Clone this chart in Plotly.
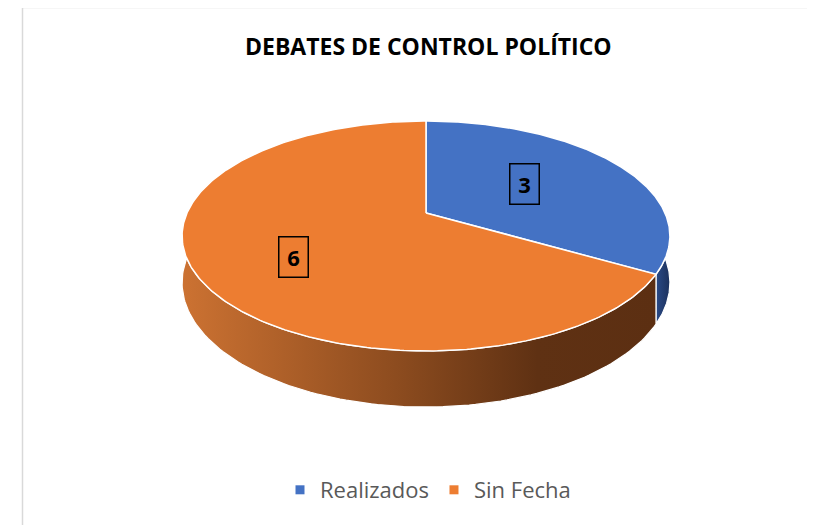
import numpy as np
import plotly.graph_objects as go

# ---- data ----
categories = ["Realizados", "Sin Fecha"]
values = [3, 6]
title_text = "DEBATES DE CONTROL POLÍTICO"

# ---- style / geometry (not data) ----
top_colors = ["#4472C4", "#ED7D31"]
wall_scales = [
    [[0, "#2a4a86"], [1, "#1c315c"]],
    [[0, "#cc7232"], [0.45, "#8d4c1f"], [0.75, "#5f3113"], [1, "#5c2f12"]],
]
CX, CY = 426.0, 213.0      # projected pie centre (px)
SX, SY = 239.0, 110.4      # horizontal / depth scale (px)
B = 0.2                    # perspective factor
H = 44.8                   # thickness (px, world)
START = 90.0               # first slice starts at 12 o'clock, clockwise
OFF = 8                    # page body margin compensation


def proj(t_deg, r=1.0, drop=0.0):
    t = np.radians(np.asarray(t_deg, dtype=float))
    X = r * np.cos(t)
    Z = r * np.sin(t)
    w = 1 + B * Z
    return CX + SX * X / w, CY - SY * Z / w + drop / w


total = float(sum(values))
bounds = [START]
for v in values:
    bounds.append(bounds[-1] - 360.0 * v / total)

fig = go.Figure()

# side walls (visible front part: angles between -180 and 0)
for i in range(len(values)):
    a1, a2 = bounds[i], bounds[i + 1]
    for shift in (0, 360, -360):
        lo = max(a2 + shift, -180.0)
        hi = min(a1 + shift, 0.0)
        if hi - lo > 0.01:
            ts = np.linspace(hi, lo, 120)
            xt, yt = proj(ts)
            xb, yb = proj(ts[::-1], drop=H)
            fig.add_trace(go.Scatter(
                x=np.concatenate([xt, xb, xt[:1]]),
                y=np.concatenate([yt, yb, yt[:1]]),
                mode="lines", fill="toself",
                line=dict(color="white", width=1.2),
                fillgradient=dict(type="horizontal", colorscale=wall_scales[i]),
                hoverinfo="skip", showlegend=False))

# top surface slices
for i in range(len(values)):
    a1, a2 = bounds[i], bounds[i + 1]
    ts = np.linspace(a1, a2, 300)
    xa, ya = proj(ts)
    cx0, cy0 = proj(0.0, r=0.0)
    fig.add_trace(go.Scatter(
        x=np.concatenate([[cx0], xa, [cx0]]),
        y=np.concatenate([[cy0], ya, [cy0]]),
        mode="lines", fill="toself", fillcolor=top_colors[i],
        line=dict(color="white", width=1.5),
        hoverinfo="skip", showlegend=False))

# data labels
label_r = [0.5, 0.6]
label_drop = [-3.0, 8.0]
for i, v in enumerate(values):
    mid = (bounds[i] + bounds[i + 1]) / 2
    lx, ly = proj(mid, r=label_r[i], drop=label_drop[i])
    fig.add_annotation(x=float(lx), y=float(ly), text=f"<b>{v}</b>", showarrow=False,
                       font=dict(family="Open Sans", size=22, color="black"),
                       bordercolor="black", borderwidth=1.5, borderpad=3,
                       width=22, height=33, xanchor="center", yanchor="middle")

# legend entries
for i, c in enumerate(categories):
    fig.add_trace(go.Scatter(x=[None], y=[None], mode="markers", name=c,
                             marker=dict(symbol="square", size=9, color=top_colors[i])))

# title
fig.add_annotation(x=428, y=46, text=f"<b>{title_text}</b>", showarrow=False,
                   font=dict(family="Open Sans", size=23, color="black"),
                   xanchor="center", yanchor="middle")

# chart-area border (top and left visible)
fig.add_shape(type="rect", xref="x", yref="y", x0=22.5, x1=860, y0=7.5, y1=580,
              line=dict(color="#d9d9d9", width=1.5), layer="below")

fig.update_layout(
    width=815, height=525,
    margin=dict(l=0, r=0, t=0, b=0),
    paper_bgcolor="white", plot_bgcolor="white",
    xaxis=dict(range=[OFF, 815 + OFF], visible=False, fixedrange=True),
    yaxis=dict(range=[525 + OFF, OFF], visible=False, fixedrange=True),
    showlegend=True,
    legend=dict(orientation="h", x=(428 - OFF) / 815, xanchor="center",
                y=1 - (490 - OFF) / 525, yanchor="middle",
                font=dict(family="Open Sans", size=22, color="#595959"),
                bgcolor="rgba(0,0,0,0)", itemwidth=30),
)

fig.write_html("out.html")
